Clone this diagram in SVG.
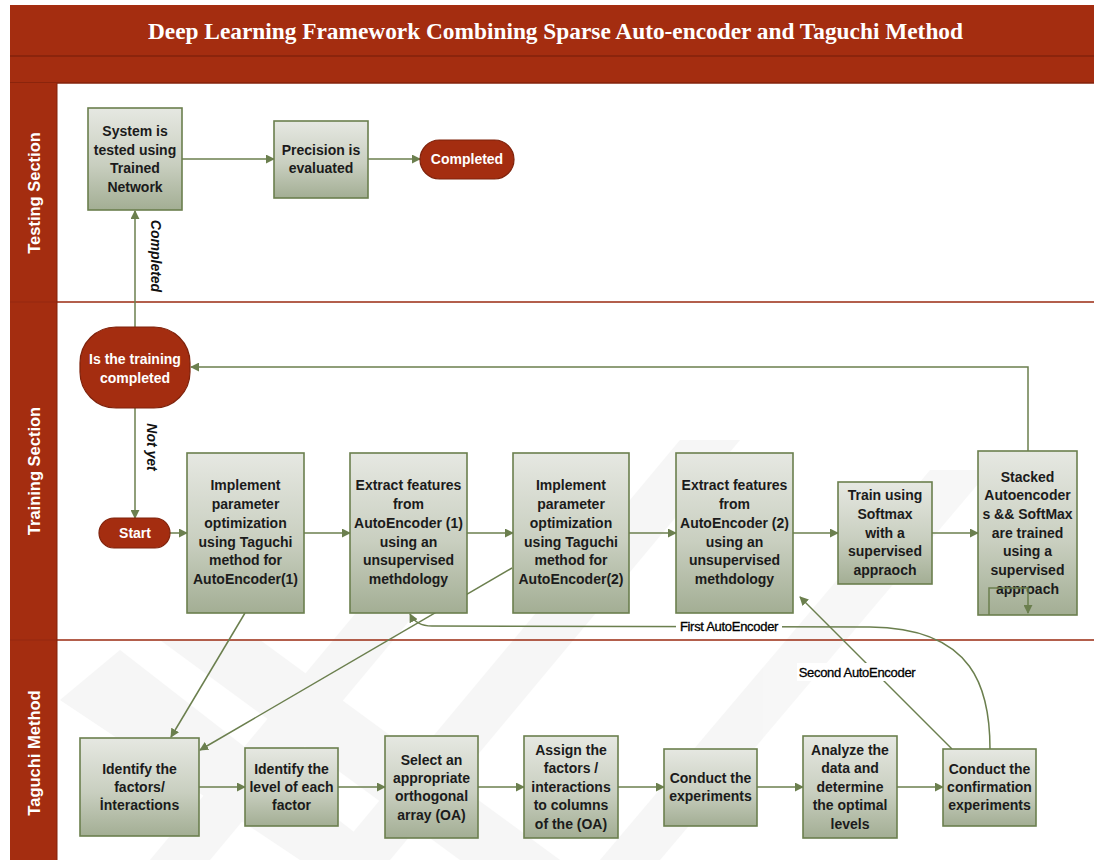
<svg xmlns="http://www.w3.org/2000/svg" width="1094" height="860" viewBox="0 0 1094 860">
<style>
.box{fill:url(#gbox);stroke:#6b7f4e;stroke-width:1.6}
.pill{fill:#a42d10;stroke:#7f220b;stroke-width:1.2}
.t{font-family:"Liberation Sans",Arial,sans-serif;font-weight:bold;font-size:14px;fill:#1b1b1b;text-anchor:middle;dominant-baseline:central}
.tw{font-family:"Liberation Sans",Arial,sans-serif;font-weight:bold;font-size:14px;fill:#ffffff;text-anchor:middle;dominant-baseline:central}
.lane{font-family:"Liberation Sans",Arial,sans-serif;font-weight:bold;font-size:16.5px;fill:#ffffff;text-anchor:middle;dominant-baseline:central}
.c{fill:none;stroke:#6b7f4e;stroke-width:1.5}
.lbl{font-family:"Liberation Sans",Arial,sans-serif;font-weight:bold;font-style:italic;font-size:14px;fill:#111;text-anchor:middle;dominant-baseline:central}
.lbl2{font-family:"Liberation Sans",Arial,sans-serif;font-size:13px;fill:#000;stroke:#000;stroke-width:0.3;text-anchor:middle;dominant-baseline:central;letter-spacing:-0.3px}
</style>
<defs>
<linearGradient id="gbox" x1="0" y1="0" x2="0" y2="1">
<stop offset="0" stop-color="#e6e8e2"/>
<stop offset="0.55" stop-color="#c9cfc0"/>
<stop offset="1" stop-color="#a3ae94"/>
</linearGradient>
<marker id="ah" viewBox="0 0 10 10" refX="9" refY="5" markerWidth="9" markerHeight="9" markerUnits="userSpaceOnUse" orient="auto">
<path d="M0,0 L10,5 L0,10 z" fill="#6b7f4e"/>
</marker>
</defs>
<rect width="1094" height="860" fill="#ffffff"/>
<g id="watermark" fill="#000" opacity="0.03">
<polygon points="150,860 400,560 460,560 210,860"/>
<polygon points="330,860 680,440 740,440 390,860"/>
<polygon points="600,860 930,470 990,470 660,860"/>
<polygon points="160,640 260,640 560,860 460,860"/>
<polygon points="60,700 120,650 390,860 300,860"/>
</g>
<g id="frame">
<rect x="10" y="5" width="1084" height="51" fill="#a42d10"/>
<rect x="10" y="56" width="1084" height="27" fill="#a42d10"/>
<line x1="10" y1="56" x2="1094" y2="56" stroke="#83220b" stroke-width="1.5"/>
<line x1="10" y1="83" x2="1094" y2="83" stroke="#83220b" stroke-width="1.5"/>
<text x="555.5" y="31" font-family="'Liberation Serif','Times New Roman',serif" font-weight="bold" font-size="24" fill="#ffffff" text-anchor="middle" dominant-baseline="central" textLength="815" lengthAdjust="spacingAndGlyphs">Deep Learning Framework Combining Sparse Auto-encoder and Taguchi Method</text>
<rect x="10" y="83" width="47" height="777" fill="#a42d10"/>
<line x1="10" y1="302" x2="1094" y2="302" stroke="#9a2a10" stroke-width="1.5"/>
<line x1="10" y1="640" x2="1094" y2="640" stroke="#9a2a10" stroke-width="1.5"/>
<line x1="57" y1="83" x2="57" y2="860" stroke="#83220b" stroke-width="1"/>
<text class="lane" transform="translate(34,193) rotate(-90)">Testing Section</text>
<text class="lane" transform="translate(34,471) rotate(-90)">Training Section</text>
<text class="lane" transform="translate(34,753) rotate(-90)">Taguchi Method</text>
</g>
<g id="connectors">
<line class="c" x1="135" y1="327" x2="135" y2="211" marker-end="url(#ah)"/>
<line class="c" x1="182" y1="159" x2="274" y2="159" marker-end="url(#ah)"/>
<line class="c" x1="368" y1="159" x2="420" y2="159" marker-end="url(#ah)"/>
<line class="c" x1="135" y1="408" x2="135" y2="518" marker-end="url(#ah)"/>
<line class="c" x1="170" y1="533" x2="187" y2="533" marker-end="url(#ah)"/>
<line class="c" x1="304" y1="533" x2="350" y2="533" marker-end="url(#ah)"/>
<line class="c" x1="467" y1="533" x2="513" y2="533" marker-end="url(#ah)"/>
<line class="c" x1="629" y1="533" x2="676" y2="533" marker-end="url(#ah)"/>
<line class="c" x1="793" y1="533" x2="838" y2="533" marker-end="url(#ah)"/>
<line class="c" x1="932" y1="533" x2="978" y2="533" marker-end="url(#ah)"/>
<polyline class="c" points="1028,451 1028,367 191,367" marker-end="url(#ah)"/>
<line class="c" x1="245" y1="613" x2="171" y2="737" marker-end="url(#ah)"/>
<line class="c" x1="512" y1="568" x2="200" y2="750" marker-end="url(#ah)"/>
<line class="c" x1="199" y1="787" x2="245" y2="787" marker-end="url(#ah)"/>
<line class="c" x1="338" y1="787" x2="385" y2="787" marker-end="url(#ah)"/>
<line class="c" x1="478" y1="787" x2="524" y2="787" marker-end="url(#ah)"/>
<line class="c" x1="618" y1="787" x2="664" y2="787" marker-end="url(#ah)"/>
<line class="c" x1="757" y1="787" x2="803" y2="787" marker-end="url(#ah)"/>
<line class="c" x1="897" y1="787" x2="943" y2="787" marker-end="url(#ah)"/>
<path class="c" d="M990,749 C990,690 975,628 870,627 L432,626 C421,626 414,622 410,614" marker-end="url(#ah)"/>
<line class="c" x1="952" y1="749" x2="800" y2="597" marker-end="url(#ah)"/>
<text class="lbl" transform="translate(156,256) rotate(90)">Completed</text>
<text class="lbl" transform="translate(152,447) rotate(90)">Not yet</text>
<rect x="676" y="617" width="106" height="18" fill="#ffffff"/>
<text class="lbl2" x="729" y="626">First AutoEncoder</text>
<rect x="797" y="663" width="120" height="18" fill="#ffffff"/>
<text class="lbl2" x="857" y="672">Second AutoEncoder</text>
</g>
<g id="n-system"><rect class="box" x="88" y="108" width="94" height="102"/>
<text class="t" x="135" y="131">System is</text><text class="t" x="135" y="150">tested using</text><text class="t" x="135" y="168">Trained</text><text class="t" x="135" y="187">Network</text></g>
<g id="n-precision"><rect class="box" x="274" y="121" width="94" height="77"/>
<text class="t" x="321" y="150">Precision is</text><text class="t" x="321" y="168">evaluated</text></g>
<g id="n-completed"><rect class="pill" x="420" y="140" width="94" height="39" rx="19.5"/>
<text class="tw" x="467" y="159">Completed</text></g>
<g id="n-istraining"><rect class="pill" x="80" y="327" width="110" height="81" rx="36"/>
<text class="tw" x="135" y="359">Is the training</text><text class="tw" x="135" y="378">completed</text></g>
<g id="n-start"><rect class="pill" x="99" y="518" width="71" height="30" rx="15"/>
<text class="tw" x="135" y="533">Start</text></g>
<g id="n-impl1"><rect class="box" x="187" y="453" width="117" height="160"/>
<text class="t" x="245.5" y="485">Implement</text><text class="t" x="245.5" y="504">parameter</text><text class="t" x="245.5" y="523">optimization</text><text class="t" x="245.5" y="542">using Taguchi</text><text class="t" x="245.5" y="560">method for</text><text class="t" x="245.5" y="579">AutoEncoder(1)</text></g>
<g id="n-extract1"><rect class="box" x="350" y="453" width="117" height="160"/>
<text class="t" x="408.5" y="485">Extract features</text><text class="t" x="408.5" y="504">from</text><text class="t" x="408.5" y="523">AutoEncoder (1)</text><text class="t" x="408.5" y="542">using an</text><text class="t" x="408.5" y="560">unsupervised</text><text class="t" x="408.5" y="579">methdology</text></g>
<g id="n-impl2"><rect class="box" x="513" y="453" width="116" height="160"/>
<text class="t" x="571" y="485">Implement</text><text class="t" x="571" y="504">parameter</text><text class="t" x="571" y="523">optimization</text><text class="t" x="571" y="542">using Taguchi</text><text class="t" x="571" y="560">method for</text><text class="t" x="571" y="579">AutoEncoder(2)</text></g>
<g id="n-extract2"><rect class="box" x="676" y="453" width="117" height="160"/>
<text class="t" x="734.5" y="485">Extract features</text><text class="t" x="734.5" y="504">from</text><text class="t" x="734.5" y="523">AutoEncoder (2)</text><text class="t" x="734.5" y="542">using an</text><text class="t" x="734.5" y="560">unsupervised</text><text class="t" x="734.5" y="579">methdology</text></g>
<g id="n-train"><rect class="box" x="838" y="482" width="94" height="102"/>
<text class="t" x="885" y="495">Train using</text><text class="t" x="885" y="514">Softmax</text><text class="t" x="885" y="533">with a</text><text class="t" x="885" y="551">supervised</text><text class="t" x="885" y="570">appraoch</text></g>
<g id="n-stacked"><rect class="box" x="978" y="451" width="99" height="164"/>
<text class="t" x="1027.5" y="477">Stacked</text><text class="t" x="1027.5" y="495">Autoencoder</text><text class="t" x="1027.5" y="514">s &amp;&amp; SoftMax</text><text class="t" x="1027.5" y="533">are trained</text><text class="t" x="1027.5" y="551">using a</text><text class="t" x="1027.5" y="570">supervised</text><text class="t" x="1027.5" y="589">approach</text>
<polyline class="c" points="989,615 989,588 1028,588 1028,613" marker-end="url(#ah)"/></g>
<g id="n-idfactors"><rect class="box" x="80" y="738" width="119" height="98"/>
<text class="t" x="139.5" y="769">Identify the</text><text class="t" x="139.5" y="787">factors/</text><text class="t" x="139.5" y="805">İnteractions</text></g>
<g id="n-idlevel"><rect class="box" x="245" y="748" width="93" height="78"/>
<text class="t" x="291.5" y="769">Identify the</text><text class="t" x="291.5" y="787">level of each</text><text class="t" x="291.5" y="805">factor</text></g>
<g id="n-select"><rect class="box" x="385" y="736" width="93" height="102"/>
<text class="t" x="431.5" y="760">Select an</text><text class="t" x="431.5" y="778">appropriate</text><text class="t" x="431.5" y="796">orthogonal</text><text class="t" x="431.5" y="815">array (OA)</text></g>
<g id="n-assign"><rect class="box" x="524" y="736" width="94" height="102"/>
<text class="t" x="571" y="750">Assign the</text><text class="t" x="571" y="768">factors /</text><text class="t" x="571" y="787">interactions</text><text class="t" x="571" y="805">to columns</text><text class="t" x="571" y="824">of the (OA)</text></g>
<g id="n-conduct"><rect class="box" x="664" y="749" width="93" height="77"/>
<text class="t" x="710.5" y="778">Conduct the</text><text class="t" x="710.5" y="796">experiments</text></g>
<g id="n-analyze"><rect class="box" x="803" y="736" width="94" height="102"/>
<text class="t" x="850" y="750">Analyze the</text><text class="t" x="850" y="768">data and</text><text class="t" x="850" y="787">determine</text><text class="t" x="850" y="805">the optimal</text><text class="t" x="850" y="824">levels</text></g>
<g id="n-confirm"><rect class="box" x="943" y="749" width="93" height="77"/>
<text class="t" x="989.5" y="769">Conduct the</text><text class="t" x="989.5" y="787">confirmation</text><text class="t" x="989.5" y="805">experiments</text></g>
</svg>
